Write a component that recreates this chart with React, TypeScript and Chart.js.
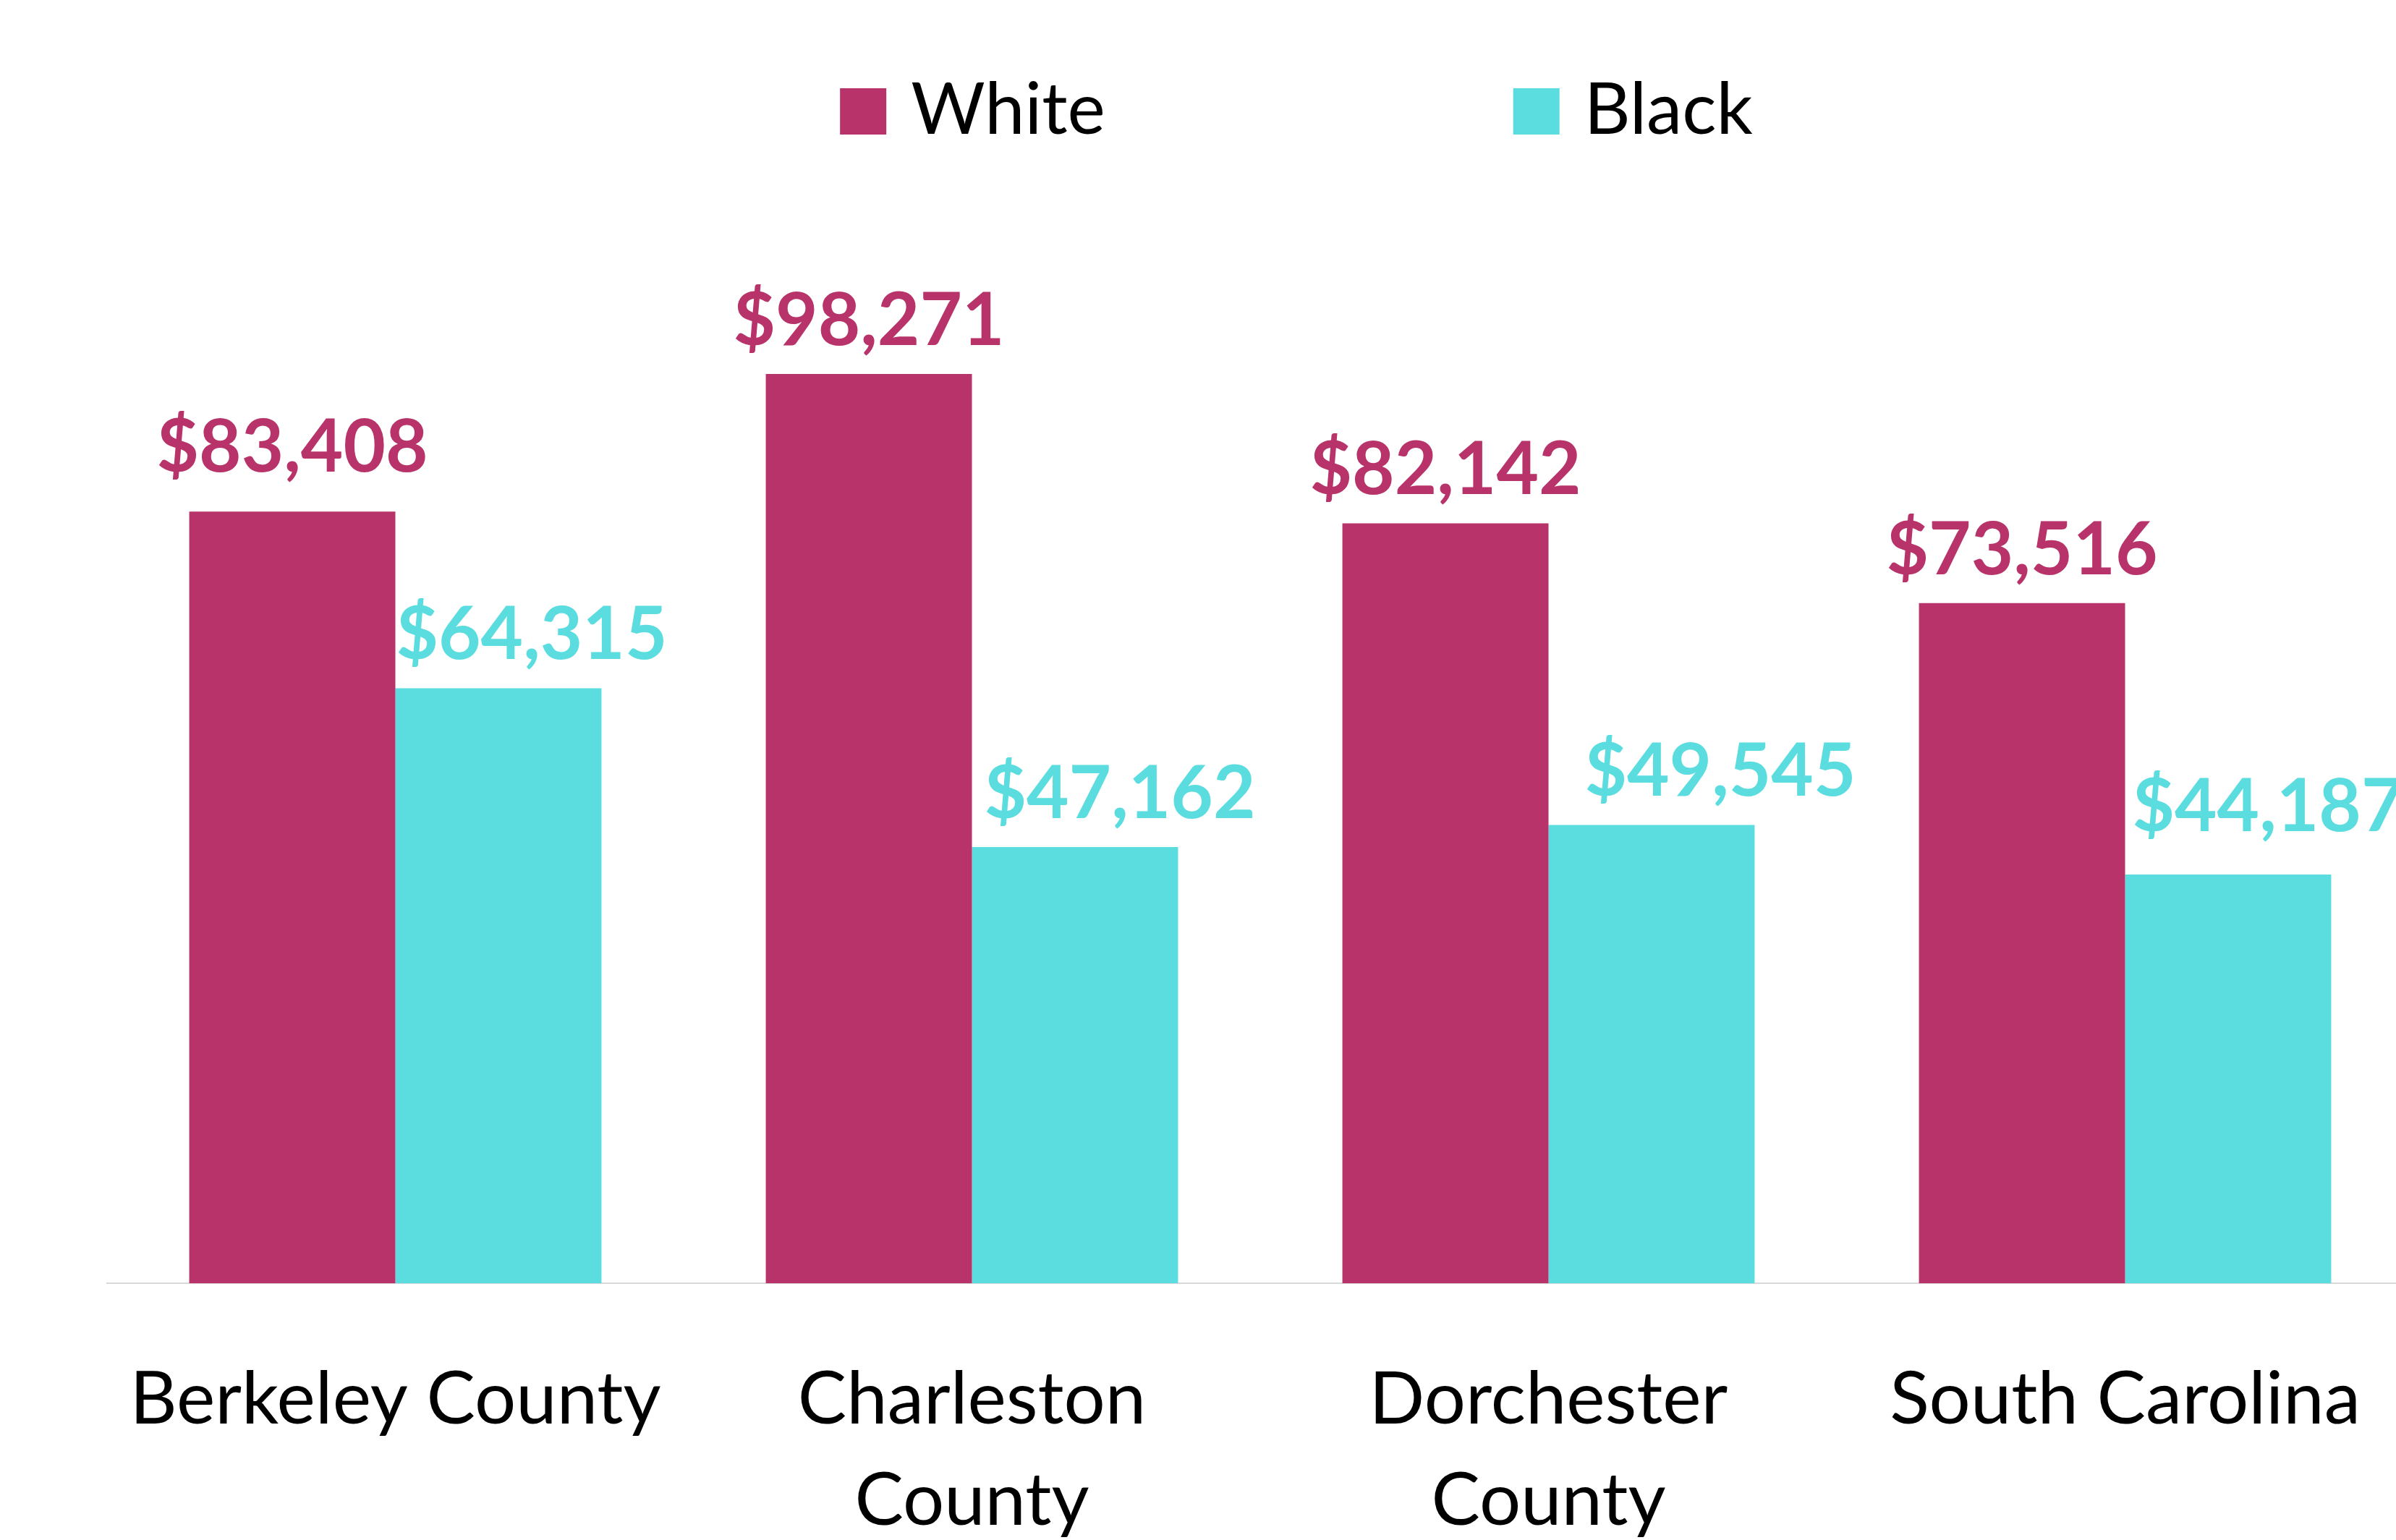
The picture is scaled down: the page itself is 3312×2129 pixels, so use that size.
import React, { useEffect, useRef } from "react";
import { Chart, registerables } from "chart.js";

Chart.register(...registerables);

// ---- data ----
const CATEGORY_LABELS: string[][] = [
  ["Berkeley County"],
  ["Charleston", "County"],
  ["Dorchester", "County"],
  ["South Carolina"],
];
const SERIES_NAMES = ["White", "Black"];
const WHITE_VALUES = [83408, 98271, 82142, 73516];
const BLACK_VALUES = [64315, 47162, 49545, 44187];

// ---- style ----
const COLORS = ["#B83369", "#5BDDE0"];
const FONT = "Lato, 'Noto Sans', sans-serif";
// per-label nudges (relative to bar top centre)
const LABEL_DX = [
  [0, 0, 0, 0],
  [46, 62, 95, 55],
];
const LABEL_GAP = [
  [55, 40, 40, 40],
  [40, 40, 40, 60],
];

const CANVAS_W = 3584;
const CANVAS_H = 2229;

const fmt = (v: number) => "$" + v.toLocaleString("en-US");

const valueLabelPlugin = {
  id: "valueLabels",
  afterDatasetsDraw(chart: any) {
    const ctx = chart.ctx;
    ctx.save();
    ctx.font = `700 101px ${FONT}`;
    ctx.textAlign = "center";
    ctx.textBaseline = "alphabetic";
    chart.data.datasets.forEach((ds: any, d: number) => {
      const meta = chart.getDatasetMeta(d);
      ctx.fillStyle = ds.backgroundColor;
      meta.data.forEach((bar: any, i: number) => {
        const v = ds.data[i] as number;
        ctx.fillText(fmt(v), bar.x + LABEL_DX[d][i], bar.y - LABEL_GAP[d][i]);
      });
    });
    ctx.restore();
  },
};

const legendPlugin = {
  id: "spacedLegend",
  afterDraw(chart: any) {
    const ctx = chart.ctx;
    const box = 64;
    const boxGap = 34;
    const itemGap = 564;
    ctx.save();
    ctx.font = `400 99px ${FONT}`;
    ctx.textBaseline = "alphabetic";
    ctx.textAlign = "left";
    const items = chart.data.datasets.map((ds: any) => {
      const tw = ctx.measureText(ds.label).width;
      return { label: ds.label, color: ds.backgroundColor, w: box + boxGap + tw };
    });
    const total =
      items.reduce((s: number, it: any) => s + it.w, 0) + itemGap * (items.length - 1);
    let x = chart.width / 2 - total / 2;
    items.forEach((it: any) => {
      ctx.fillStyle = it.color;
      ctx.fillRect(x, 122, box, box);
      ctx.fillStyle = "#000000";
      ctx.fillText(it.label, x + box + boxGap, 185);
      x += it.w + itemGap;
    });
    ctx.restore();
  },
};

export default function App() {
  const ref = useRef<HTMLCanvasElement | null>(null);

  useEffect(() => {
    if (!ref.current) return;
    const chart = new Chart(ref.current, {
      type: "bar",
      data: {
        labels: CATEGORY_LABELS,
        datasets: [
          {
            label: SERIES_NAMES[0],
            data: WHITE_VALUES,
            backgroundColor: COLORS[0],
            borderWidth: 0,
            categoryPercentage: 0.715,
            barPercentage: 1.0,
          },
          {
            label: SERIES_NAMES[1],
            data: BLACK_VALUES,
            backgroundColor: COLORS[1],
            borderWidth: 0,
            categoryPercentage: 0.715,
            barPercentage: 1.0,
          },
        ],
      },
      options: {
        responsive: false,
        animation: false,
        devicePixelRatio: 1,
        layout: { padding: { left: 148, right: 248, top: 495, bottom: 0 } },
        plugins: {
          legend: { display: false },
          tooltip: { enabled: false },
          title: { display: false },
        },
        scales: {
          x: {
            grid: { display: false },
            border: { display: true, color: "#D9D9D9", width: 2 },
            ticks: {
              color: "#000000",
              padding: 83,
              maxRotation: 0,
              autoSkip: false,
              font: { family: FONT, size: 101, weight: "400", lineHeight: 1.39 },
            },
          },
          y: {
            display: false,
            min: 0,
            max: 100000,
          },
        },
      },
      plugins: [valueLabelPlugin, legendPlugin],
    });
    return () => chart.destroy();
  }, []);

  return (
    <div
      style={{
        position: "absolute",
        left: 0,
        top: 0,
        width: 3312,
        height: 2129,
        overflow: "hidden",
        background: "#ffffff",
      }}
    >
      <canvas
        ref={ref}
        width={CANVAS_W}
        height={CANVAS_H}
        style={{ display: "block", width: CANVAS_W, height: CANVAS_H }}
      />
    </div>
  );
}
